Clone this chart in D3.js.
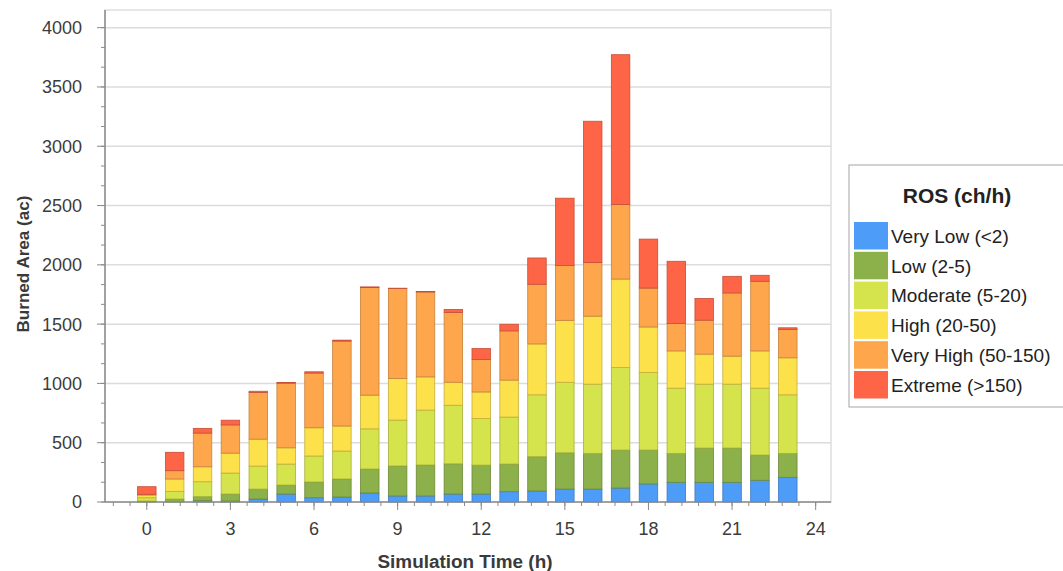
<!DOCTYPE html>
<html><head><meta charset="utf-8">
<script src="https://cdn.jsdelivr.net/npm/d3@7"></script>
<style>
html,body{margin:0;padding:0;background:#fff;}
svg{display:block;font-family:"Liberation Sans",Arial,sans-serif;}
</style></head>
<body><svg id="c" width="1063" height="571"></svg>
<script>
const hours = [0,1,2,3,4,5,6,7,8,9,10,11,12,13,14,15,16,17,18,19,20,21,22,23];
const seriesNames = ["Very Low (<2)","Low (2-5)","Moderate (5-20)","High (20-50)","Very High (50-150)","Extreme (>150)"];
const seriesColors = ["#4d9cf8","#8cb04a","#d5e34c","#fde14b","#fea64b","#fe6446"];
const veryLow  = [0,0,11,8,25,67,36,42,76,51,51,67,67,87,93,109,109,118,152,166,166,166,183,208];
const low      = [8,25,34,59,84,76,133,152,202,253,261,255,244,233,289,306,301,320,286,244,289,289,213,202];
const moderate = [28,65,126,177,194,177,219,236,339,387,463,494,393,396,522,595,584,696,654,550,539,539,564,494];
const high     = [23,104,126,168,227,137,238,211,284,351,280,194,224,312,429,522,573,746,384,314,253,236,314,312];
const veryHigh = [6,70,284,238,393,545,461,716,907,758,716,589,273,415,503,463,452,629,328,231,286,533,587,239];
const extreme  = [64,155,40,40,11,6,11,8,6,3,5,25,93,56,222,567,1192,1263,413,525,183,140,51,14];
const yTicks = [0,500,1000,1500,2000,2500,3000,3500,4000];
const xTicks = [0,3,6,9,12,15,18,21,24];
const legendTitle = "ROS (ch/h)";
const xTitle = "Simulation Time (h)";
const yTitle = "Burned Area (ac)";

const keys = ["vl","l","m","h","vh","e"];
const table = hours.map((h,i)=>({hour:h, vl:veryLow[i], l:low[i], m:moderate[i], h:high[i], vh:veryHigh[i], e:extreme[i]}));
const stacked = d3.stack().keys(keys)(table);

const svg = d3.select("#c");
const L=105, R=831, T=10, B=502;
const x = d3.scaleLinear().domain([-1.5,24.55]).range([L,R]);
const y = d3.scaleLinear().domain([0,4149]).range([B,T]);

// plot border
svg.append("rect").attr("x",L).attr("y",T).attr("width",R-L).attr("height",B-T)
  .attr("fill","none").attr("stroke","#dedede").attr("stroke-width",1.5);
// gridlines
svg.append("g").selectAll("line").data(yTicks.filter(d=>d>0)).join("line")
  .attr("x1",L).attr("x2",R).attr("y1",d=>y(d)).attr("y2",d=>y(d))
  .attr("stroke","#dcdcdc").attr("stroke-width",1.5);

// bars
const bw = 18.5;
svg.append("g").selectAll("g").data(stacked).join("g")
  .attr("fill",(d,i)=>seriesColors[i])
  .attr("stroke",(d,i)=>d3.color(seriesColors[i]).darker(0.7))
  .attr("stroke-width",0.8)
  .selectAll("rect").data(d=>d).join("rect")
  .attr("x",d=>x(d.data.hour)-bw/2).attr("width",bw)
  .attr("y",d=>y(d[1])).attr("height",d=>Math.max(0,y(d[0])-y(d[1])));

// y axis
const yMinor = d3.range(0,4149,500/3);
const yAx = svg.append("g").attr("transform",`translate(${L},0)`);
yAx.append("line").attr("x1",0).attr("x2",0).attr("y1",T).attr("y2",B).attr("stroke","#8a8a8a").attr("stroke-width",1.5);
yAx.selectAll(".mn").data(yMinor).join("line").attr("class","mn")
  .attr("x1",-4).attr("x2",0).attr("y1",d=>y(d)).attr("y2",d=>y(d)).attr("stroke","#8a8a8a");
yAx.selectAll(".mj").data(yTicks).join("line").attr("class","mj")
  .attr("x1",-8).attr("x2",0).attr("y1",d=>y(d)).attr("y2",d=>y(d)).attr("stroke","#8a8a8a");
yAx.selectAll("text").data(yTicks).join("text")
  .attr("x",-23).attr("y",d=>y(d)).attr("dy","0.36em").attr("text-anchor","end")
  .attr("font-size",18).attr("fill","#3c3c3c").text(d=>d);

// x axis
const xMinor = d3.range(-1.2,24.56,0.6);
const xAx = svg.append("g").attr("transform",`translate(0,${B})`);
xAx.append("line").attr("x1",L).attr("x2",R).attr("y1",0).attr("y2",0).attr("stroke","#8a8a8a").attr("stroke-width",1.5);
xAx.selectAll(".mn").data(xMinor).join("line").attr("class","mn")
  .attr("x1",d=>x(d)).attr("x2",d=>x(d)).attr("y1",0).attr("y2",4).attr("stroke","#8a8a8a");
xAx.selectAll(".mj").data(xTicks).join("line").attr("class","mj")
  .attr("x1",d=>x(d)).attr("x2",d=>x(d)).attr("y1",0).attr("y2",8).attr("stroke","#8a8a8a");
xAx.selectAll("text").data(xTicks).join("text")
  .attr("x",d=>x(d)).attr("y",33).attr("text-anchor","middle")
  .attr("font-size",18).attr("fill","#3c3c3c").text(d=>d);

// titles
svg.append("text").attr("x",465).attr("y",568).attr("text-anchor","middle")
  .attr("font-size",18).attr("font-weight","bold").attr("fill","#3a3a3a")
  .attr("textLength",175).attr("lengthAdjust","spacingAndGlyphs").text(xTitle);
svg.append("text").attr("transform","translate(29,264) rotate(-90)").attr("text-anchor","middle")
  .attr("font-size",17).attr("font-weight","bold").attr("fill","#3a3a3a")
  .attr("textLength",137).attr("lengthAdjust","spacingAndGlyphs").text(yTitle);

// legend
const lg = svg.append("g");
lg.append("rect").attr("x",849).attr("y",165).attr("width",230).attr("height",242)
  .attr("fill","#fff").attr("stroke","#b4b4b4").attr("stroke-width",1.2);
lg.append("text").attr("x",957).attr("y",203).attr("text-anchor","middle")
  .attr("font-size",21).attr("font-weight","bold").attr("fill","#222").text(legendTitle);
const rows = lg.selectAll("g.row").data(seriesNames).join("g").attr("class","row")
  .attr("transform",(d,i)=>`translate(854,${222+i*29.8})`);
rows.append("rect").attr("width",34).attr("height",27.5).attr("fill",(d,i)=>seriesColors[i]);
rows.append("text").attr("x",37).attr("y",14).attr("dy","0.36em")
  .attr("font-size",19).attr("fill","#222").text(d=>d);
</script></body></html>
